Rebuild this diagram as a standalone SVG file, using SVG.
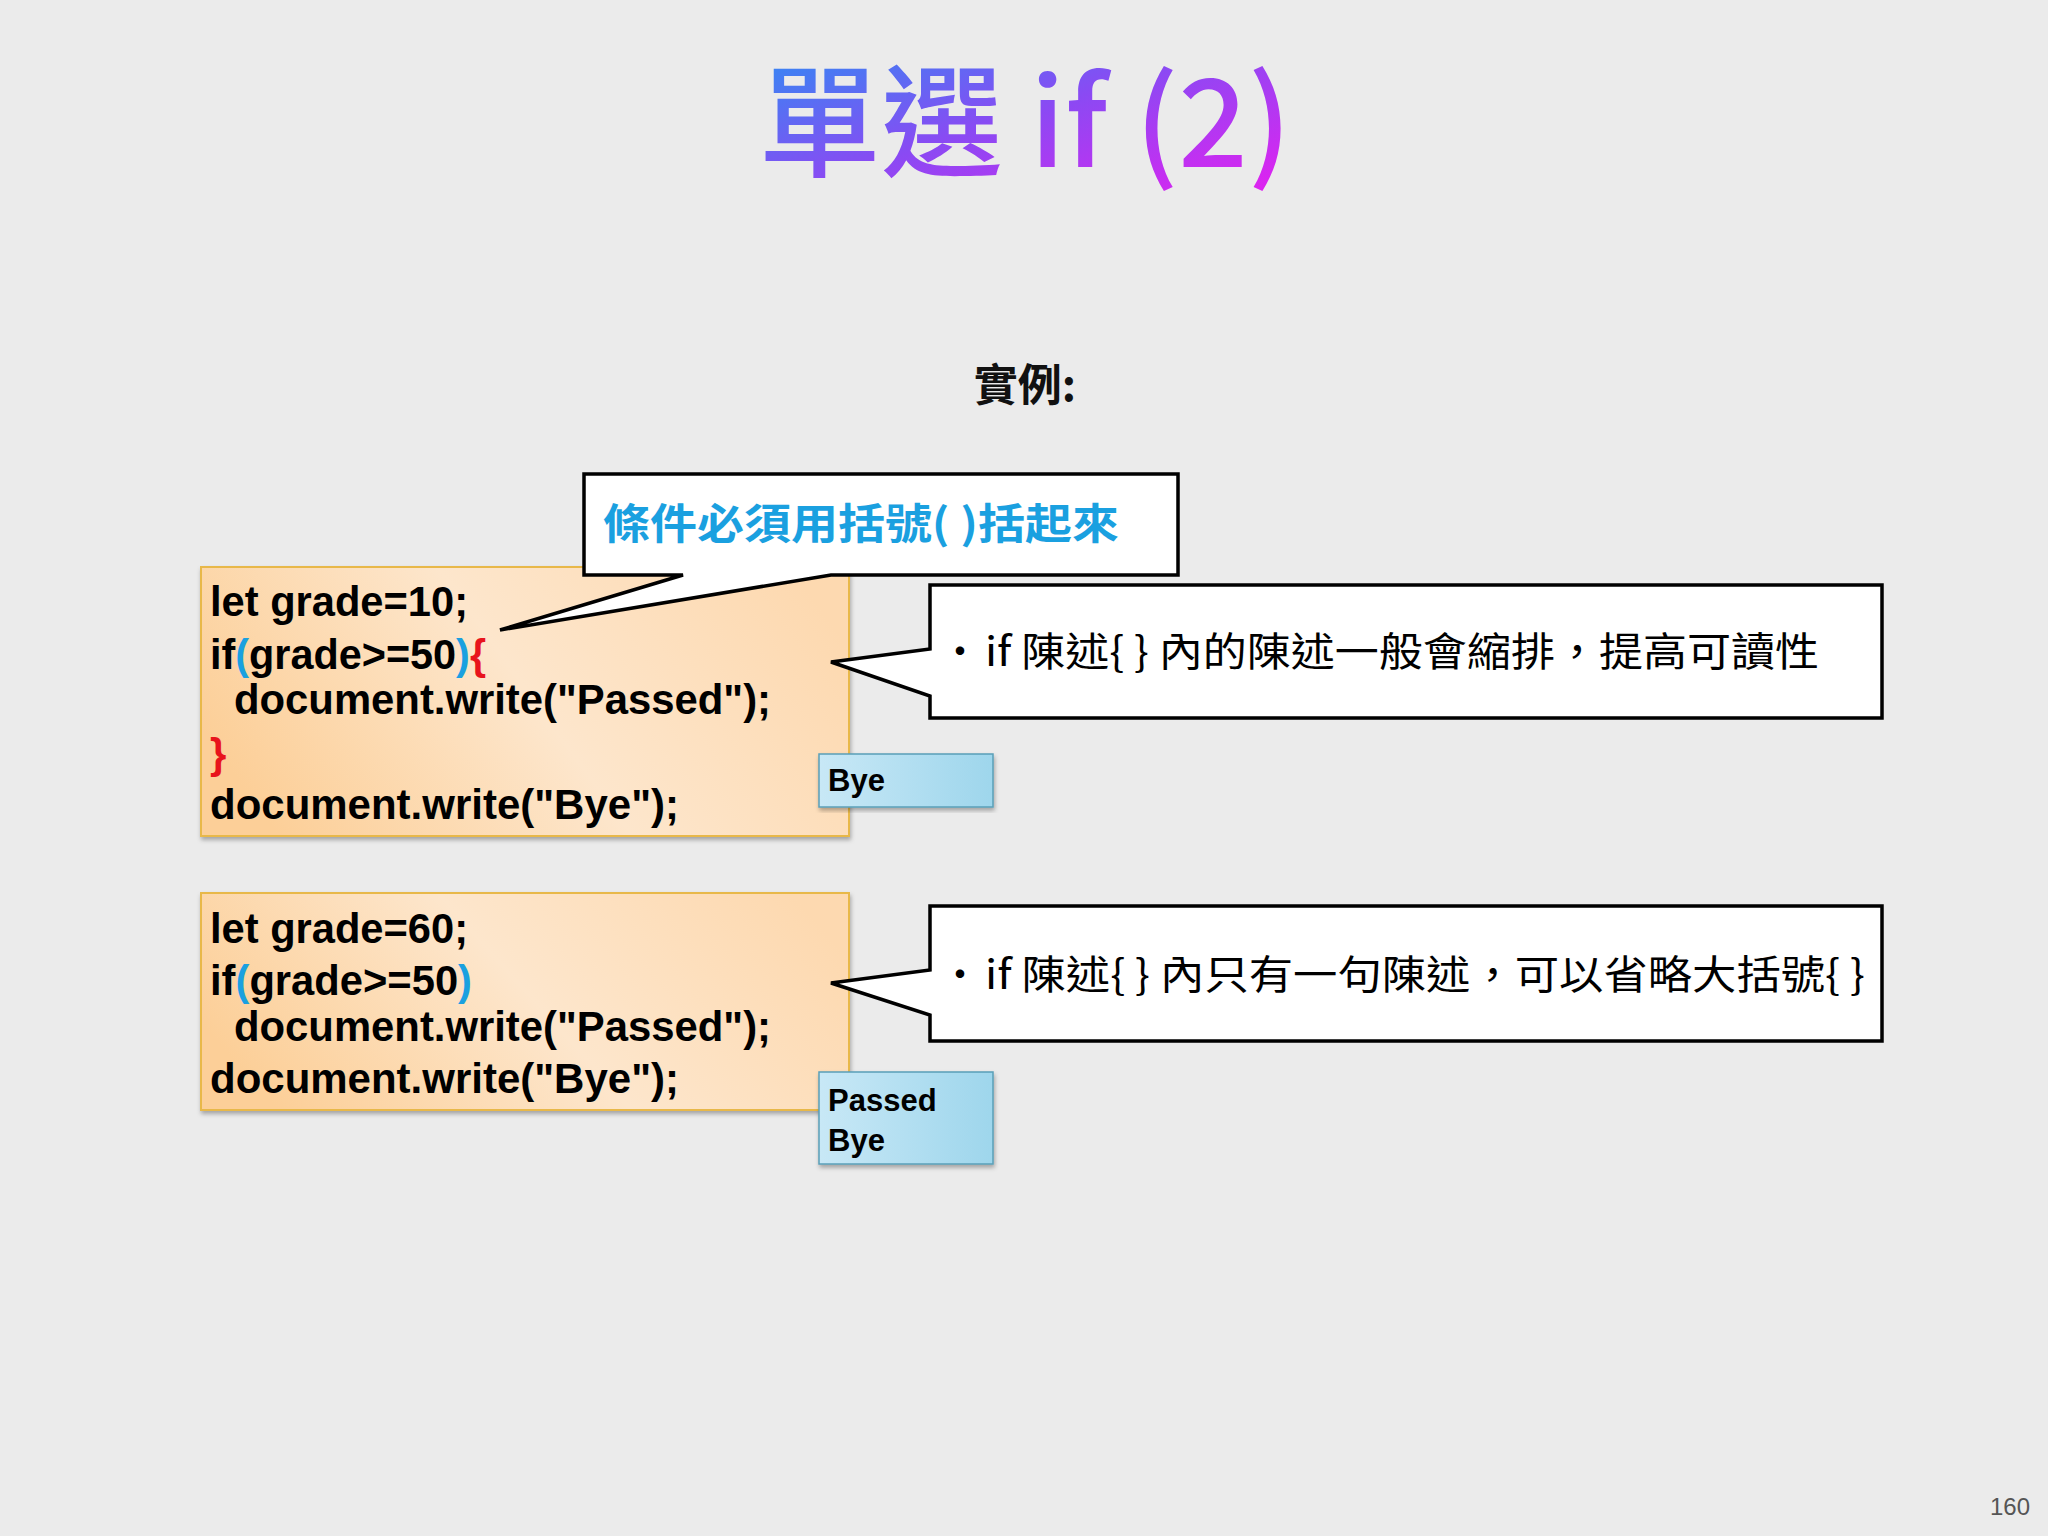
<svg xmlns="http://www.w3.org/2000/svg" width="2048" height="1536" viewBox="0 0 2048 1536">
<defs>
<linearGradient id="tg" x1="0" y1="0" x2="1" y2="1"><stop offset="0" stop-color="#2196f3"/><stop offset="0.5" stop-color="#8a4af3"/><stop offset="1" stop-color="#e91ef0"/></linearGradient>
<linearGradient id="og" x1="0" y1="0.6" x2="1" y2="0.3"><stop offset="0" stop-color="#fccf98"/><stop offset="0.5" stop-color="#fde6cc"/><stop offset="1" stop-color="#fdd9b0"/></linearGradient>
<linearGradient id="bg" x1="0" y1="0" x2="1" y2="0"><stop offset="0" stop-color="#c8e8f6"/><stop offset="1" stop-color="#9ed6ec"/></linearGradient>
<filter id="sh" x="-5%" y="-5%" width="110%" height="115%"><feDropShadow dx="1" dy="3" stdDeviation="2" flood-opacity="0.3"/></filter>
<style>
.code{font-family:"Liberation Sans",Arial,sans-serif;font-weight:bold;font-size:42px;fill:#000}
.cb{fill:url(#og);stroke:#e8b84a;stroke-width:2}
.bb{fill:url(#bg);stroke:#5a9fb8;stroke-width:1.5}
.out{font-family:"Liberation Sans",Arial,sans-serif;font-weight:bold;font-size:31px;fill:#000}
.call{fill:#fff;stroke:#000;stroke-width:3.5;stroke-linejoin:miter}
.zh{font-family:"Noto Sans CJK TC","Noto Sans",sans-serif;font-size:40px;fill:#000}
.b{fill:#1aa0e0}.r{fill:#e8141c}
</style>
</defs>
<rect width="2048" height="1536" fill="#ebebeb"/>
<text x="1025" y="167" text-anchor="middle" font-family="'Noto Sans CJK TC','Noto Sans',sans-serif" font-weight="500" font-size="122" fill="url(#tg)">單選 if (2)</text>
<text x="1025" y="401" text-anchor="middle" font-family="'Noto Sans CJK TC',sans-serif" font-weight="bold" font-size="44" fill="#111">實例:</text>

<g id="code1">
<rect class="cb" x="201" y="567" width="648" height="269" filter="url(#sh)"/>
<text class="code" x="210" y="616" textLength="258" lengthAdjust="spacingAndGlyphs">let grade=10;</text>
<text class="code" x="210" y="669" textLength="276" lengthAdjust="spacingAndGlyphs">if<tspan class="b">(</tspan>grade&gt;=50<tspan class="b">)</tspan><tspan class="r">{</tspan></text>
<text class="code" x="234" y="714" textLength="537" lengthAdjust="spacingAndGlyphs">document.write("Passed");</text>
<text class="code r" x="210" y="768">}</text>
<text class="code" x="210" y="819" textLength="469" lengthAdjust="spacingAndGlyphs">document.write("Bye");</text>
</g>
<g id="out1">
<rect class="bb" x="819" y="754" width="174" height="53" filter="url(#sh)"/>
<text class="out" x="828" y="791">Bye</text>
</g>
<g id="code2">
<rect class="cb" x="201" y="893" width="648" height="217" filter="url(#sh)"/>
<text class="code" x="210" y="943" textLength="258" lengthAdjust="spacingAndGlyphs">let grade=60;</text>
<text class="code" x="210" y="995" textLength="262" lengthAdjust="spacingAndGlyphs">if<tspan class="b">(</tspan>grade&gt;=50<tspan class="b">)</tspan></text>
<text class="code" x="234" y="1041" textLength="537" lengthAdjust="spacingAndGlyphs">document.write("Passed");</text>
<text class="code" x="210" y="1093" textLength="469" lengthAdjust="spacingAndGlyphs">document.write("Bye");</text>
</g>
<g id="out2">
<rect class="bb" x="819" y="1072" width="174" height="92" filter="url(#sh)"/>
<text class="out" x="828" y="1111">Passed</text>
<text class="out" x="828" y="1151">Bye</text>
</g>
<g id="connectors">
<path id="callout1" class="call" d="M584,474 H1178 V575 H831 L500,630 L683,575 H584 Z"/>
<path id="callout2" class="call" d="M930,585 H1882 V718 H930 V696 L831,662 L930,649 Z"/>
<path id="callout3" class="call" d="M930,906 H1882 V1041 H930 V1015 L831,983 L930,970 Z"/>
</g>
<text x="603" y="539" font-family="'Noto Sans CJK TC',sans-serif" font-weight="bold" font-size="42" fill="#1aa0e0" textLength="516" lengthAdjust="spacingAndGlyphs">條件必須用括號(    )括起來</text>
<text class="zh" x="940" y="666">•</text>
<text class="zh" x="985" y="666" textLength="834" lengthAdjust="spacingAndGlyphs">if 陳述{ } 內的陳述一般會縮排，提高可讀性</text>
<text class="zh" x="940" y="989">•</text>
<text class="zh" x="985" y="989" textLength="880" lengthAdjust="spacingAndGlyphs">if 陳述{ } 內只有一句陳述，可以省略大括號{ }</text>
<text x="2030" y="1515" text-anchor="end" font-family="'Liberation Sans',sans-serif" font-size="24" fill="#555">160</text>
</svg>
